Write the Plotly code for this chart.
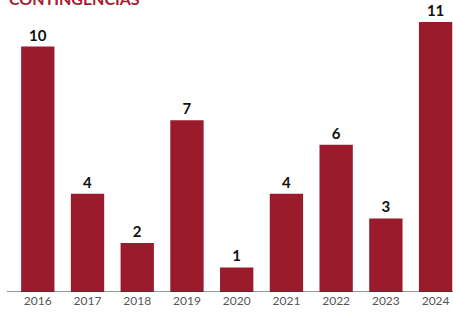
import plotly.graph_objects as go

years = ["2016", "2017", "2018", "2019", "2020", "2021", "2022", "2023", "2024"]
counts = [10, 4, 2, 7, 1, 4, 6, 3, 11]

bar_color = "#9a1b2b"

fig = go.Figure()

fig.add_trace(go.Bar(
    x=list(range(len(years))),
    y=counts,
    text=[str(c) for c in counts],
    textposition="outside",
    constraintext="none",
    cliponaxis=False,
    textfont=dict(family="Lato", size=15, color="#111111", weight="bold"),
    marker=dict(color=bar_color, line=dict(width=0)),
    width=0.67,
))

fig.add_annotation(
    text="CONTINGENCIAS",
    xref="paper", yref="paper",
    x=0.015, y=1.005,
    xanchor="left", yanchor="middle",
    showarrow=False,
    font=dict(family="Lato", size=16, color="#a3202f", weight="bold"),
)

fig.add_shape(
    type="line", xref="paper", yref="y",
    x0=0.015, x1=1, y0=0, y1=0,
    line=dict(color="#333333", width=1),
)

fig.update_layout(
    width=453, height=322,
    margin=dict(l=0, r=0, t=0, b=30, autoexpand=False),
    plot_bgcolor="white",
    paper_bgcolor="white",
    showlegend=False,
    bargap=0.33,
    xaxis=dict(
        range=[-0.76, 8.35],
        automargin=False,
        tickmode="array",
        tickvals=list(range(len(years))),
        ticktext=years,
        showgrid=False,
        zeroline=False,
        showline=False,
        ticks="",
        tickfont=dict(family="Lato", size=12, color="#555555"),
    ),
    yaxis=dict(
        range=[0, 11.9],
        automargin=False,
        visible=False,
        showgrid=False,
    ),
)

# the page's default body margin would shift the figure by 8px
fig.write_html(
    "out.html",
    config={"displayModeBar": False},
    post_script="document.body.style.margin = '0';",
)
